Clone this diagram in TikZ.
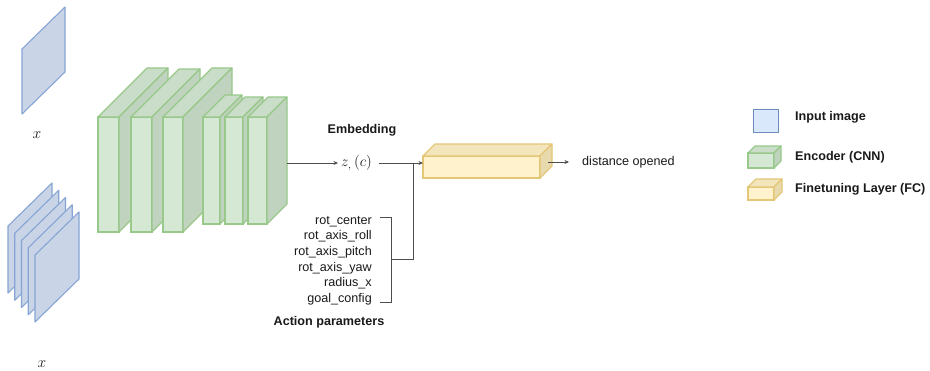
\documentclass[tikz,border=0pt]{standalone}
\usepackage{fontspec}
\setmainfont{Liberation Sans}
\usetikzlibrary{calc,arrows.meta}
\definecolor{cGface}{HTML}{D5E8D4}
\definecolor{cGtop}{HTML}{CADDC9}
\definecolor{cGside}{HTML}{BFD3BE}
\definecolor{cGline}{HTML}{98C88A}
\definecolor{cYface}{HTML}{FFF2CC}
\definecolor{cYtop}{HTML}{F3E5BC}
\definecolor{cYside}{HTML}{E9DAAE}
\definecolor{cYline}{HTML}{E3C676}
\definecolor{cBsheet}{HTML}{C9D4E7}
\definecolor{cBline}{HTML}{86A5D4}
\definecolor{cBlegend}{HTML}{DAE8FC}
\definecolor{cBlegline}{HTML}{6C8EBF}
\definecolor{cLine}{HTML}{4D4D4D}
\definecolor{cText}{HTML}{1A1A1A}
\tikzset{
  lbl/.style={font=\fontsize{12.6}{15.6}\selectfont, inner sep=0pt, text=cText},
  blbl/.style={font=\fontsize{12.6}{15.6}\selectfont\bfseries, inner sep=0pt, text=cText},
  mlbl/.style={font=\fontsize{12}{14}\selectfont, inner sep=0pt, text=cText},
  conn/.style={draw=cLine, line width=0.9pt},
  arr/.style={conn, -{Stealth[length=4.5pt,width=4pt]}},
  sheet/.style={draw=cBline, fill=cBsheet, line width=1.1pt, line join=round},
  gface/.style={draw=cGline, fill=cGface, line width=1.1pt, inner sep=0pt, outer sep=0pt},
  gtop/.style={draw=cGline, fill=cGtop, line width=1.1pt, line join=round},
  gside/.style={draw=cGline, fill=cGside, line width=1.1pt, line join=round},
  yface/.style={draw=cYline, fill=cYface, line width=1.1pt, inner sep=0pt, outer sep=0pt},
  ytop/.style={draw=cYline, fill=cYtop, line width=1.1pt, line join=round},
  yside/.style={draw=cYline, fill=cYside, line width=1.1pt, line join=round},
}
% #1 name, #2 x, #3 y (front top-left), #4 width, #5 height, #6 depth, #7 style prefix
\newcommand\mkcube[7]{%
  \node[#7face, minimum width=#4pt, minimum height=#5pt, anchor=north west] (#1) at (#2,#3) {};
  \path[#7top] (#1.north west) -- ++(#6,-#6) -- ++(#4,0) -- (#1.north east) -- cycle;
  \path[#7side] (#1.north east) -- ++(#6,-#6) -- ++(0,#5) -- (#1.south east) -- cycle;
}
% #1 bottom-left x, #2 bottom-left y, #3 width, #4 height, #5 rise
\newcommand\mksheet[5]{%
  \path[sheet] (#1,#2) -- ++(0,-#4) -- ++(#3,-#5) -- ++(0,#4) -- cycle;
}
\begin{document}
\begin{tikzpicture}[x=1pt,y=-1pt]
\useasboundingbox (0,0) rectangle (930,370);
\fill[white] (0,0) rectangle (930,370);

% input images
\mksheet{22}{114}{43}{65}{42}
\node[mlbl] (xone) at (37,135) {\scalebox{1.3}{$x$}};
\foreach \i in {0,...,4}{
  \mksheet{8+6.75*\i}{293+7.25*\i}{44}{67}{43}
}
\node[mlbl] (xtwo) at (42,364) {\scalebox{1.3}{$x$}};

% encoder
\mkcube{b1}{98}{117}{21}{115}{49}{g}
\mkcube{b2}{131}{117}{21}{115}{48}{g}
\mkcube{b3}{163}{117}{20}{115}{49}{g}
\mkcube{b4}{203}{117}{17}{107}{22}{g}
\mkcube{b5}{225}{117}{18}{107}{20}{g}
\mkcube{b6}{248}{117}{19}{107}{20}{g}

% embedding
\node[blbl] (embl) at (362,130) {Embedding};
\coordinate (emb) at (287,163);
\node[mlbl, anchor=west] (z) at (341,163) {\scalebox{1.25}{$z_{,}\,(c)$}};
\draw[arr, shorten >=3pt] (emb) -- (z.west);

% fine-tuning layer
\mkcube{fc}{423}{156}{117}{22}{12}{y}
\draw[arr, shorten <=7pt] (z.east) -- (z.east -| fc.west);

% output
\node[lbl, anchor=west] (dist) at (582,162) {distance opened};
\coordinate (fcout) at (548,162);
\draw[arr, shorten >=13pt] (fcout) -- (dist.west);

% action parameters
\node[lbl, align=right, anchor=north east] (params) at (372,216)
  {rot\_center\\rot\_axis\_roll\\rot\_axis\_pitch\\rot\_axis\_yaw\\radius\_x\\goal\_config};
\node[blbl] (actl) at (329,322) {Action parameters};
\coordinate (brt) at (380,217);
\coordinate (brb) at (380,302);
\coordinate (brm) at (391,259);
\coordinate (join) at (413,163);
\draw[conn] (brt) -- ++(11,0) |- (brb);
\draw[conn] (brm) -| (join);

% legend
\node[draw=cBlegline, fill=cBlegend, line width=1.1pt, minimum width=25pt, minimum height=23pt, inner sep=0pt, anchor=north west] (lgin) at (753,109) {};
\node[blbl, anchor=west] (lginl) at (795,117) {Input image};
\mkcube{lgenc}{748}{153}{26}{15}{7}{g}
\node[blbl, anchor=west] (lgencl) at (795,157) {Encoder (CNN)};
\mkcube{lgfc}{748}{187}{26}{13}{8}{y}
\node[blbl, anchor=west] (lgfcl) at (795,189) {Finetuning Layer (FC)};
\end{tikzpicture}
\end{document}
